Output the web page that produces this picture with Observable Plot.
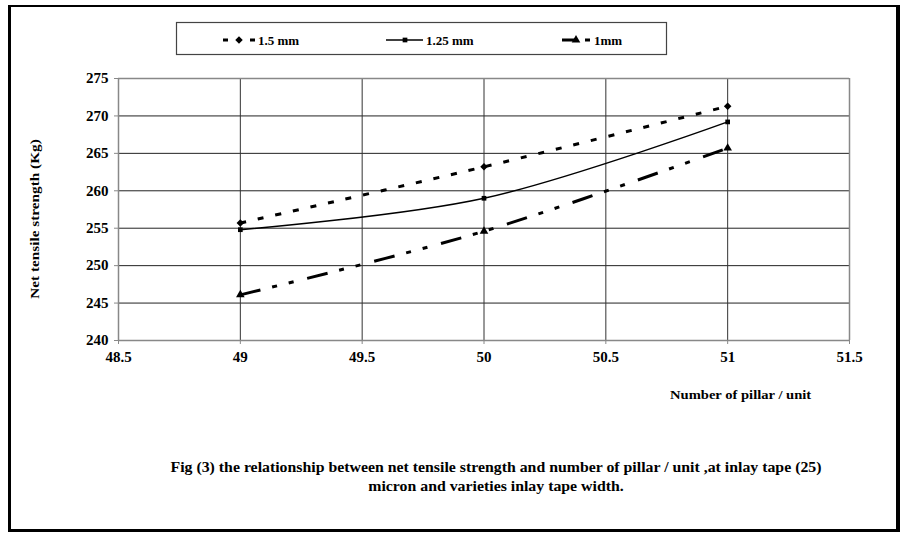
<!DOCTYPE html>
<html>
<head>
<meta charset="utf-8">
<script src="https://cdn.jsdelivr.net/npm/d3@7"></script>
<script src="https://cdn.jsdelivr.net/npm/@observablehq/plot@0.6"></script>
<style>
  body { margin: 0; background: #fff; }
  #wrap { position: relative; width: 904px; height: 535px; font-family: "Liberation Serif", "Times New Roman", serif; font-weight: bold; color: #000; overflow: hidden; }
  #wrap svg.plot { position: absolute; left: 0; top: 0; }
  .border { position: absolute; left: 8px; top: 5px; width: 892px; height: 527px; border-left: 3px solid #000; border-top: 2.5px solid #000; border-right: 4px solid #000; border-bottom: 3px solid #000; box-sizing: border-box; }
  .ytitle { position: absolute; left: 35px; top: 219px; transform: translate(-50%, -50%) rotate(-90deg) scaleX(1.13); white-space: nowrap; font-size: 13.5px; }
  .xtitle { position: absolute; left: 670px; top: 387px; transform-origin: left center; transform: scaleX(1.08); white-space: nowrap; font-size: 13.5px; }
  .caption { position: absolute; left: 88px; width: 816px; top: 458px; text-align: center; font-size: 14px; line-height: 19px; transform: scaleX(1.13); transform-origin: center; }
  #legend { position: absolute; left: 0; top: 0; }
</style>
</head>
<body>
<div id="wrap">
  <div class="border"></div>
</div>
<script>
// ---- data ----
const pillars = [49, 50, 51];
const strength15 = [255.7, 263.2, 271.3];
const strength125 = [254.8, 259.0, 269.2];
const strength1 = [246.1, 254.6, 265.7];
const seriesNames = ["1.5 mm", "1.25 mm", "1mm"];
const xTicks = [48.5, 49, 49.5, 50, 50.5, 51, 51.5];
const yTicks = [240, 245, 250, 255, 260, 265, 270, 275];
const yTitle = "Net tensile strength (Kg)";
const xTitle = "Number of pillar / unit";
const captionLines = [
  "Fig (3) the relationship between net tensile strength and number of pillar / unit ,at inlay tape (25)",
  "micron and varieties inlay tape width."
];

// ---- styles ----
const seriesValues = [strength15, strength125, strength1];
const lineStyle = {
  "1.5 mm": { dash: "6,12", width: 3, symbol: "diamond2", r: 3.4, legendDash: "5,22,5" },
  "1.25 mm": { dash: null, width: 1.5, symbol: "square2", r: 3, legendDash: null },
  "1mm": { dash: "21,12,5,12,5,14", width: 3, symbol: "triangle", r: 3.2, legendDash: "14,9,5,10" }
};
const fontStack = '"Liberation Serif", "Times New Roman", serif';

const rows = [];
seriesNames.forEach((name, i) => {
  pillars.forEach((p, j) => rows.push({ series: name, x: p, y: seriesValues[i][j] }));
});

const lineMarks = seriesNames.map(name => {
  const st = lineStyle[name];
  return Plot.line(rows.filter(r => r.series === name), {
    x: "x", y: "y", curve: "catmull-rom", stroke: "#000",
    strokeWidth: st.width, strokeDasharray: st.dash || undefined, strokeLinecap: "butt"
  });
});
const dotMarks = seriesNames.map(name => {
  const st = lineStyle[name];
  return Plot.dot(rows.filter(r => r.series === name), {
    x: "x", y: "y", symbol: () => st.symbol, r: st.r, fill: "#000", stroke: "none"
  });
});

const chart = Plot.plot({
  width: 904, height: 535,
  marginLeft: 118, marginRight: 55, marginTop: 78, marginBottom: 195,
  style: { fontFamily: fontStack, fontWeight: "bold", fontSize: "15px", color: "#000", background: "transparent" },
  x: { domain: [48.5, 51.5], label: null },
  y: { domain: [240, 275], label: null },
  symbol: { type: "identity" },
  marks: [
    Plot.gridY(yTicks, { stroke: "#222", strokeOpacity: 1, strokeWidth: 1 }),
    Plot.gridX(xTicks, { stroke: "#333", strokeOpacity: 1, strokeWidth: 1 }),
    Plot.ruleX([48.5, 51.5], { stroke: "#888", strokeWidth: 1.5 }),
    Plot.ruleY([240, 275], { stroke: "#888", strokeWidth: 1.5 }),
    Plot.axisY(yTicks, { tickSize: 4, tickPadding: 6, stroke: "#888", fill: "#000", label: null, tickFormat: d => String(d), fontSize: 15, fontFamily: fontStack, fontWeight: "bold" }),
    Plot.axisX(xTicks, { tickSize: 4, tickPadding: 7, stroke: "#888", fill: "#000", label: null, tickFormat: d => String(d), fontSize: 15, fontFamily: fontStack, fontWeight: "bold" }),
    ...lineMarks,
    ...dotMarks
  ]
});
chart.classList.add("plot");
const wrap = document.getElementById("wrap");
wrap.appendChild(chart);

// axis titles and caption
const yt = document.createElement("div"); yt.className = "ytitle"; yt.textContent = yTitle; wrap.appendChild(yt);
const xt = document.createElement("div"); xt.className = "xtitle"; xt.textContent = xTitle; wrap.appendChild(xt);
const cap = document.createElement("div"); cap.className = "caption";
captionLines.forEach(t => { const d = document.createElement("div"); d.textContent = t; cap.appendChild(d); });
wrap.appendChild(cap);

// legend
const legendPos = {
  "1.5 mm": { x0: 223, x1: 255, sx: 239, tx: 258 },
  "1.25 mm": { x0: 386, x1: 423, sx: 405, tx: 426 },
  "1mm": { x0: 562, x1: 590, sx: 576, tx: 594 }
};
const lsvg = d3.select(wrap).append("svg").attr("id", "legend").attr("width", 904).attr("height", 80);
lsvg.append("rect").attr("x", 176.5).attr("y", 22.5).attr("width", 490).attr("height", 32)
  .attr("fill", "#fff").attr("stroke", "#444").attr("stroke-width", 1.2);
const ly = 40;
const symMap = { diamond2: d3.symbolDiamond2, square2: d3.symbolSquare2, triangle: d3.symbolTriangle };
seriesNames.forEach(name => {
  const st = lineStyle[name], p = legendPos[name];
  lsvg.append("line").attr("x1", p.x0).attr("x2", p.x1).attr("y1", ly).attr("y2", ly)
    .attr("stroke", "#000").attr("stroke-width", st.width)
    .attr("stroke-dasharray", st.legendDash);
  lsvg.append("path").attr("d", d3.symbol(symMap[st.symbol], Math.PI * st.r * st.r)())
    .attr("transform", `translate(${p.sx},${ly})`).attr("fill", "#000");
  lsvg.append("text").attr("x", p.tx).attr("y", ly).attr("dy", "0.35em")
    .attr("font-family", fontStack).attr("font-weight", "bold")
    .attr("font-size", 13).text(name);
});
</script>
</body>
</html>
